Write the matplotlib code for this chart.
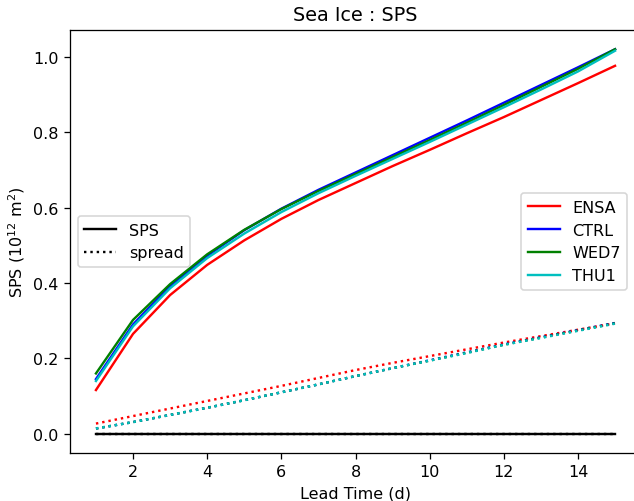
import numpy as np
import matplotlib
matplotlib.use('Agg')
import matplotlib.pyplot as plt
from matplotlib.lines import Line2D

lead = np.arange(1, 16)

names = ['ENSA', 'CTRL', 'WED7', 'THU1']
colors = ['r', 'b', 'g', 'c']

sps_ensa = [0.116, 0.265, 0.368, 0.448, 0.513, 0.570, 0.620, 0.665, 0.710, 0.753, 0.797, 0.840, 0.885, 0.930, 0.976]
sps_ctrl = [0.145, 0.290, 0.392, 0.472, 0.540, 0.597, 0.647, 0.693, 0.739, 0.785, 0.831, 0.878, 0.925, 0.972, 1.020]
sps_wed7 = [0.160, 0.302, 0.397, 0.476, 0.541, 0.596, 0.644, 0.689, 0.734, 0.779, 0.825, 0.872, 0.920, 0.968, 1.020]
sps_thu1 = [0.140, 0.285, 0.386, 0.466, 0.531, 0.588, 0.638, 0.684, 0.729, 0.774, 0.820, 0.866, 0.913, 0.961, 1.016]

spr_ensa = [0.027, 0.047, 0.067, 0.087, 0.107, 0.127, 0.148, 0.169, 0.188, 0.206, 0.224, 0.242, 0.259, 0.276, 0.293]
spr_ctrl = [0.014, 0.031, 0.050, 0.069, 0.089, 0.110, 0.131, 0.153, 0.174, 0.195, 0.216, 0.237, 0.256, 0.275, 0.294]
spr_wed7 = [0.014, 0.031, 0.050, 0.069, 0.089, 0.110, 0.131, 0.153, 0.174, 0.194, 0.215, 0.236, 0.255, 0.274, 0.293]
spr_thu1 = [0.014, 0.031, 0.050, 0.069, 0.089, 0.110, 0.131, 0.153, 0.174, 0.194, 0.214, 0.236, 0.254, 0.273, 0.292]

sps = [sps_ensa, sps_ctrl, sps_wed7, sps_thu1]
spr = [spr_ensa, spr_ctrl, spr_wed7, spr_thu1]

dpi = 115
fig = plt.figure(figsize=(634 / dpi, 502 / dpi), dpi=dpi)
# axes runs a little past the right edge, as in the original crop
ax = fig.add_axes([70 / 634, 1 - 454 / 502, 571 / 634, 423 / 502])

# legend dummies drawn at zero
ax.plot(lead, np.zeros(len(lead)), 'k-')
ax.plot(lead, np.zeros(len(lead)), 'k:')

handles = []
for name, c, s, p in zip(names, colors, sps, spr):
    h, = ax.plot(lead, s, color=c, label=name)
    ax.plot(lead, p, color=c, ls=':')
    handles.append(h)

leg1 = ax.legend([Line2D([], [], color='k'), Line2D([], [], color='k', ls=':')],
                 ['SPS', 'spread'], loc='center left')
ax.add_artist(leg1)
ax.legend(handles=handles, loc='center right', bbox_to_anchor=(0.99, 0.5))

ax.set_title('Sea Ice : SPS')
ax.set_xlabel('Lead Time (d)')
ax.set_ylabel('SPS (10$^{12}$ m$^2$)')

fig.savefig('out.png', dpi=dpi)
